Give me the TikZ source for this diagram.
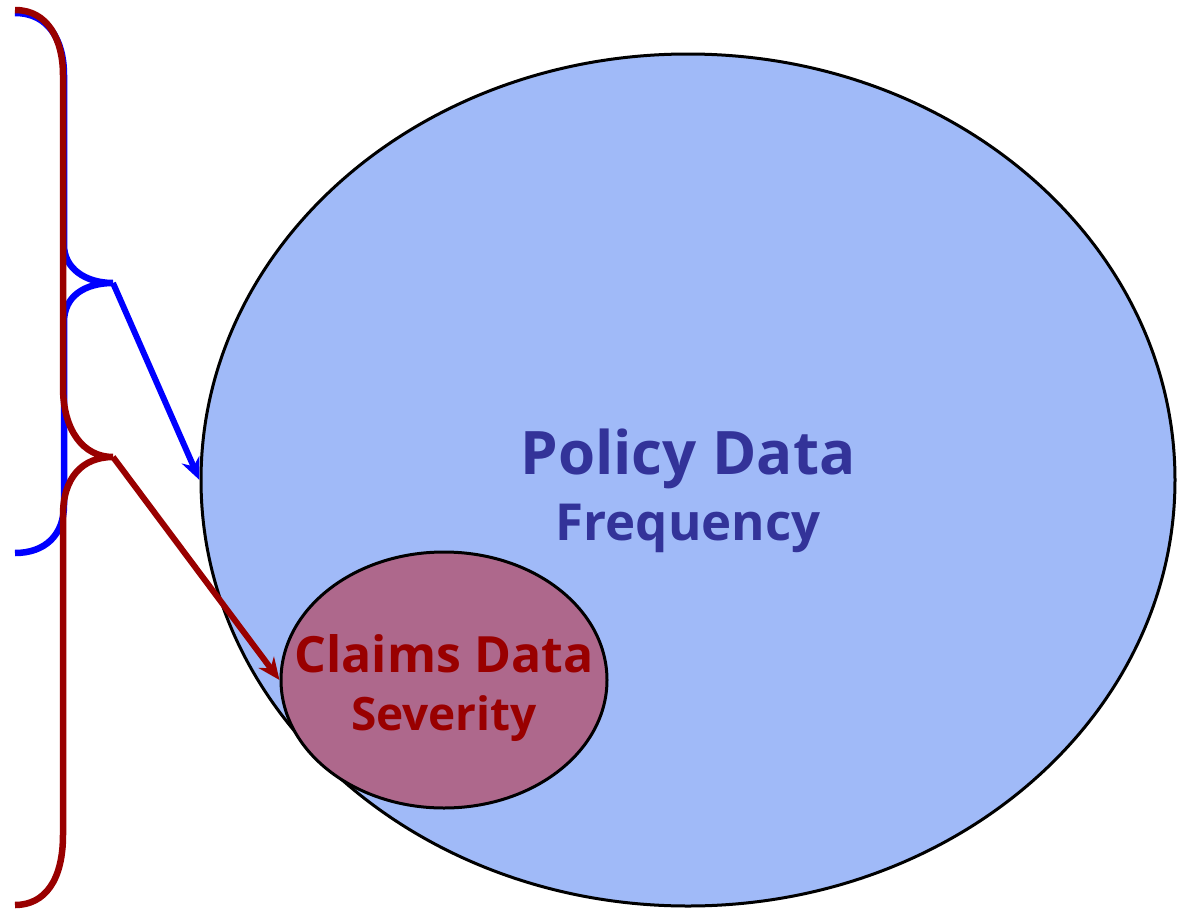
\documentclass[tikz,border=0pt]{standalone}
\usepackage{fontspec}
\setmainfont{Open Sans}
\usetikzlibrary{shapes.geometric,arrows.meta}
\definecolor{polfill}{RGB}{160,186,248}
\definecolor{clmfill}{RGB}{174,104,140}
\definecolor{poltext}{RGB}{51,51,153}
\definecolor{clmtext}{RGB}{153,0,0}
\definecolor{bbrace}{RGB}{0,0,255}
\definecolor{rbrace}{RGB}{153,0,0}
\tikzset{
  blob/.style={ellipse, draw=black, line width=3pt, inner sep=0pt},
  brace/.style={line width=6.5pt, line cap=butt},
  pointer/.style={line width=6pt, -{Stealth[length=22pt,width=19pt]}},
  lbl/.style={anchor=base, inner sep=0pt, font=\bfseries}
}
\begin{document}
\begin{tikzpicture}[x=1pt,y=-1pt]
\useasboundingbox (0,0) rectangle (1184,910);
\node[blob, fill=polfill, minimum width=974pt, minimum height=852pt] (policy) at (688,480) {};
\node[blob, fill=clmfill, minimum width=326pt, minimum height=256pt] (claims) at (444,680) {};
\node[lbl, text=poltext, font=\fontsize{60}{60}\selectfont\bfseries] (ptitle) at (688,474) {Policy Data};
\node[lbl, text=poltext, font=\fontsize{51}{51}\selectfont\bfseries] (psub) at (688,540) {Frequency};
\node[lbl, text=clmtext, font=\fontsize{50}{50}\selectfont\bfseries] (ctitle) at (444,672) {Claims Data};
\node[lbl, text=clmtext, font=\fontsize{46}{46}\selectfont\bfseries] (csub) at (444,730) {Severity};
\coordinate (btip) at (113,283);
\coordinate (rtip) at (113,457);
% blue brace
\draw[brace, bbrace] (15,13) .. controls (49,13) and (64,41) .. (64,75)
  -- (64,245) .. controls (64,268) and (85,283) .. (btip)
  .. controls (85,283) and (64,296) .. (64,322)
  -- (64,505) .. controls (64,535) and (45,553) .. (15,553);
% red brace
\draw[brace, rbrace] (15,10) .. controls (48,10) and (63,40) .. (63,75)
  -- (63,387) .. controls (63,430) and (83,457) .. (rtip)
  .. controls (82,457) and (63,478) .. (63,515)
  -- (63,835) .. controls (63,880) and (45,905) .. (15,905);
\draw[pointer, bbrace] (btip) -- (policy.west);
\draw[pointer, rbrace] (rtip) -- (claims.west);
\end{tikzpicture}
\end{document}
